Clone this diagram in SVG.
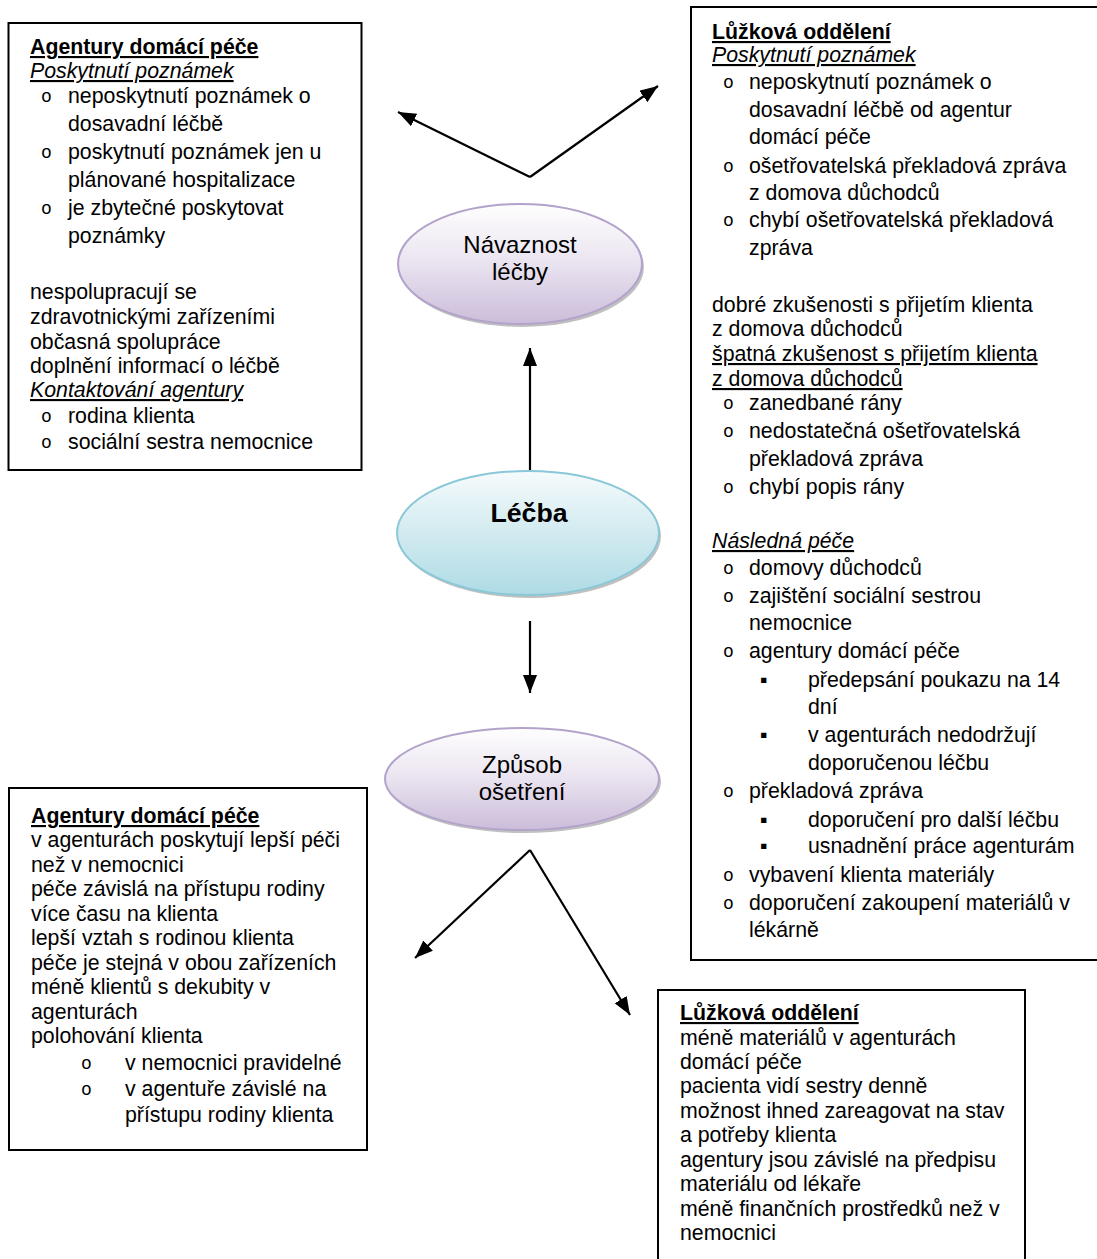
<svg xmlns="http://www.w3.org/2000/svg" width="1097" height="1259" viewBox="0 0 1097 1259">
<defs>
<style>
.t{font-family:"Liberation Sans",Arial,sans-serif;font-size:21.3px;fill:#000}
.b{font-weight:bold}
.i{font-style:italic}
.u{text-decoration:underline}
.o{font-family:"Liberation Mono","Courier New",monospace;font-size:18px;fill:#000}
.sq{font-family:"Liberation Sans",Arial,sans-serif;font-size:21.3px;fill:#000}
.box{fill:#fff;stroke:#000;stroke-width:2}
.el{font-family:"Liberation Sans",Arial,sans-serif;font-size:24px;fill:#000;text-anchor:middle}
.conn{stroke:#000;stroke-width:2.2;fill:none;marker-end:url(#ah)}
.shadow{fill:#8c8c8c;opacity:0.55}
</style>
<linearGradient id="gp" x1="0" y1="0" x2="0" y2="1">
<stop offset="0" stop-color="#fefefe"/>
<stop offset="0.45" stop-color="#ece6f1"/>
<stop offset="1" stop-color="#cbbdda"/>
</linearGradient>
<linearGradient id="gc" x1="0" y1="0" x2="0" y2="1">
<stop offset="0" stop-color="#f6fbfc"/>
<stop offset="0.45" stop-color="#d5ecf1"/>
<stop offset="1" stop-color="#aedbe5"/>
</linearGradient>
<marker id="ah" markerWidth="20" markerHeight="16" refX="18" refY="7" orient="auto" markerUnits="userSpaceOnUse">
<path d="M0,0 L18,7 L0,14 z" fill="#000"/>
</marker>
</defs>
<rect width="1097" height="1259" fill="#fff"/>

<g id="connectors">
<path class="conn" d="M530,177 L398,112"/>
<path class="conn" d="M530,177 L658,86"/>
<path class="conn" d="M530,471 L530,348"/>
<path class="conn" d="M530,621 L530,693"/>
<path class="conn" d="M530,850 L415,958"/>
<path class="conn" d="M530,850 L630,1015"/>
</g>

<g id="navaznost">
<ellipse class="shadow" cx="522" cy="267" rx="122" ry="60"/>
<ellipse cx="520" cy="264" rx="122" ry="60" fill="url(#gp)" stroke="#b3a3cb" stroke-width="2"/>
<text class="el" x="520" y="253">Návaznost</text>
<text class="el" x="520" y="280">léčby</text>
</g>

<g id="lecba">
<ellipse class="shadow" cx="530" cy="536" rx="131" ry="62"/>
<ellipse cx="528" cy="533" rx="131" ry="62" fill="url(#gc)" stroke="#8ac8d7" stroke-width="2"/>
<text class="el b" x="529" y="522" style="font-size:26.7px;font-weight:bold">Léčba</text>
</g>

<g id="zpusob">
<ellipse class="shadow" cx="524" cy="782" rx="137" ry="51"/>
<ellipse cx="522" cy="779" rx="137" ry="51" fill="url(#gp)" stroke="#b3a3cb" stroke-width="2"/>
<text class="el" x="522" y="773">Způsob</text>
<text class="el" x="522" y="800">ošetření</text>
</g>

<g id="box-top-left">
<rect class="box" x="8.5" y="23" width="353" height="447"/>
<text class="t b u" x="30" y="54">Agentury domácí péče</text>
<text class="t i u" x="30" y="78">Poskytnutí poznámek</text>
<text class="o" x="41" y="102">o</text>
<text class="t" x="68" y="103">neposkytnutí poznámek o</text>
<text class="t" x="68" y="131">dosavadní léčbě</text>
<text class="o" x="41" y="158">o</text>
<text class="t" x="68" y="159">poskytnutí poznámek jen u</text>
<text class="t" x="68" y="187">plánované hospitalizace</text>
<text class="o" x="41" y="214">o</text>
<text class="t" x="68" y="215">je zbytečné poskytovat</text>
<text class="t" x="68" y="243">poznámky</text>
<text class="t" x="30" y="299">nespolupracují se</text>
<text class="t" x="30" y="324">zdravotnickými zařízeními</text>
<text class="t" x="30" y="349">občasná spolupráce</text>
<text class="t" x="30" y="373">doplnění informací o léčbě</text>
<text class="t i u" x="30" y="397">Kontaktování agentury</text>
<text class="o" x="41" y="422">o</text>
<text class="t" x="68" y="423">rodina klienta</text>
<text class="o" x="41" y="448">o</text>
<text class="t" x="68" y="449">sociální sestra nemocnice</text>
</g>

<g id="box-top-right">
<rect class="box" x="691" y="7" width="430" height="953"/>
<text class="t b u" x="712" y="39">Lůžková oddělení</text>
<text class="t i u" x="712" y="62">Poskytnutí poznámek</text>
<text class="o" x="723" y="88">o</text>
<text class="t" x="749" y="89">neposkytnutí poznámek o</text>
<text class="t" x="749" y="117">dosavadní léčbě od agentur</text>
<text class="t" x="749" y="144">domácí péče</text>
<text class="o" x="723" y="172">o</text>
<text class="t" x="749" y="173">ošetřovatelská překladová zpráva</text>
<text class="t" x="749" y="200">z domova důchodců</text>
<text class="o" x="723" y="226">o</text>
<text class="t" x="749" y="227">chybí ošetřovatelská překladová</text>
<text class="t" x="749" y="255">zpráva</text>
<text class="t" x="712" y="312">dobré zkušenosti s přijetím klienta</text>
<text class="t" x="712" y="336">z domova důchodců</text>
<text class="t u" x="712" y="361">špatná zkušenost s přijetím klienta</text>
<text class="t u" x="712" y="386">z domova důchodců</text>
<text class="o" x="723" y="409">o</text>
<text class="t" x="749" y="410">zanedbané rány</text>
<text class="o" x="723" y="437">o</text>
<text class="t" x="749" y="438">nedostatečná ošetřovatelská</text>
<text class="t" x="749" y="466">překladová zpráva</text>
<text class="o" x="723" y="493">o</text>
<text class="t" x="749" y="494">chybí popis rány</text>
<text class="t i u" x="712" y="548">Následná péče</text>
<text class="o" x="723" y="574">o</text>
<text class="t" x="749" y="575">domovy důchodců</text>
<text class="o" x="723" y="602">o</text>
<text class="t" x="749" y="603">zajištění sociální sestrou</text>
<text class="t" x="749" y="630">nemocnice</text>
<text class="o" x="723" y="657">o</text>
<text class="t" x="749" y="658">agentury domácí péče</text>
<text class="sq" x="760" y="687">▪</text>
<text class="t" x="808" y="687">předepsání poukazu na 14</text>
<text class="t" x="808" y="714">dní</text>
<text class="sq" x="760" y="742">▪</text>
<text class="t" x="808" y="742">v agenturách nedodržují</text>
<text class="t" x="808" y="770">doporučenou léčbu</text>
<text class="o" x="723" y="797">o</text>
<text class="t" x="749" y="798">překladová zpráva</text>
<text class="sq" x="760" y="827">▪</text>
<text class="t" x="808" y="827">doporučení pro další léčbu</text>
<text class="sq" x="760" y="853">▪</text>
<text class="t" x="808" y="853">usnadnění práce agenturám</text>
<text class="o" x="723" y="881">o</text>
<text class="t" x="749" y="882">vybavení klienta materiály</text>
<text class="o" x="723" y="909">o</text>
<text class="t" x="749" y="910">doporučení zakoupení materiálů v</text>
<text class="t" x="749" y="937">lékárně</text>
</g>

<g id="box-bottom-left">
<rect class="box" x="9" y="788" width="358" height="362"/>
<text class="t b u" x="31" y="823">Agentury domácí péče</text>
<text class="t" x="31" y="847">v agenturách poskytují lepší péči</text>
<text class="t" x="31" y="872">než v nemocnici</text>
<text class="t" x="31" y="896">péče závislá na přístupu rodiny</text>
<text class="t" x="31" y="921">více času na klienta</text>
<text class="t" x="31" y="945">lepší vztah s rodinou klienta</text>
<text class="t" x="31" y="970">péče je stejná v obou zařízeních</text>
<text class="t" x="31" y="994">méně klientů s dekubity v</text>
<text class="t" x="31" y="1019">agenturách</text>
<text class="t" x="31" y="1043">polohování klienta</text>
<text class="o" x="81" y="1069">o</text>
<text class="t" x="125" y="1070">v nemocnici pravidelné</text>
<text class="o" x="81" y="1095">o</text>
<text class="t" x="125" y="1096">v agentuře závislé na</text>
<text class="t" x="125" y="1122">přístupu rodiny klienta</text>
</g>

<g id="box-bottom-right">
<rect class="box" x="658" y="990" width="367" height="290"/>
<text class="t b u" x="680" y="1020">Lůžková oddělení</text>
<text class="t" x="680" y="1045">méně materiálů v agenturách</text>
<text class="t" x="680" y="1069">domácí péče</text>
<text class="t" x="680" y="1093">pacienta vidí sestry denně</text>
<text class="t" x="680" y="1118">možnost ihned zareagovat na stav</text>
<text class="t" x="680" y="1142">a potřeby klienta</text>
<text class="t" x="680" y="1167">agentury jsou závislé na předpisu</text>
<text class="t" x="680" y="1191">materiálu od lékaře</text>
<text class="t" x="680" y="1216">méně finančních prostředků než v</text>
<text class="t" x="680" y="1240">nemocnici</text>
</g>
</svg>
